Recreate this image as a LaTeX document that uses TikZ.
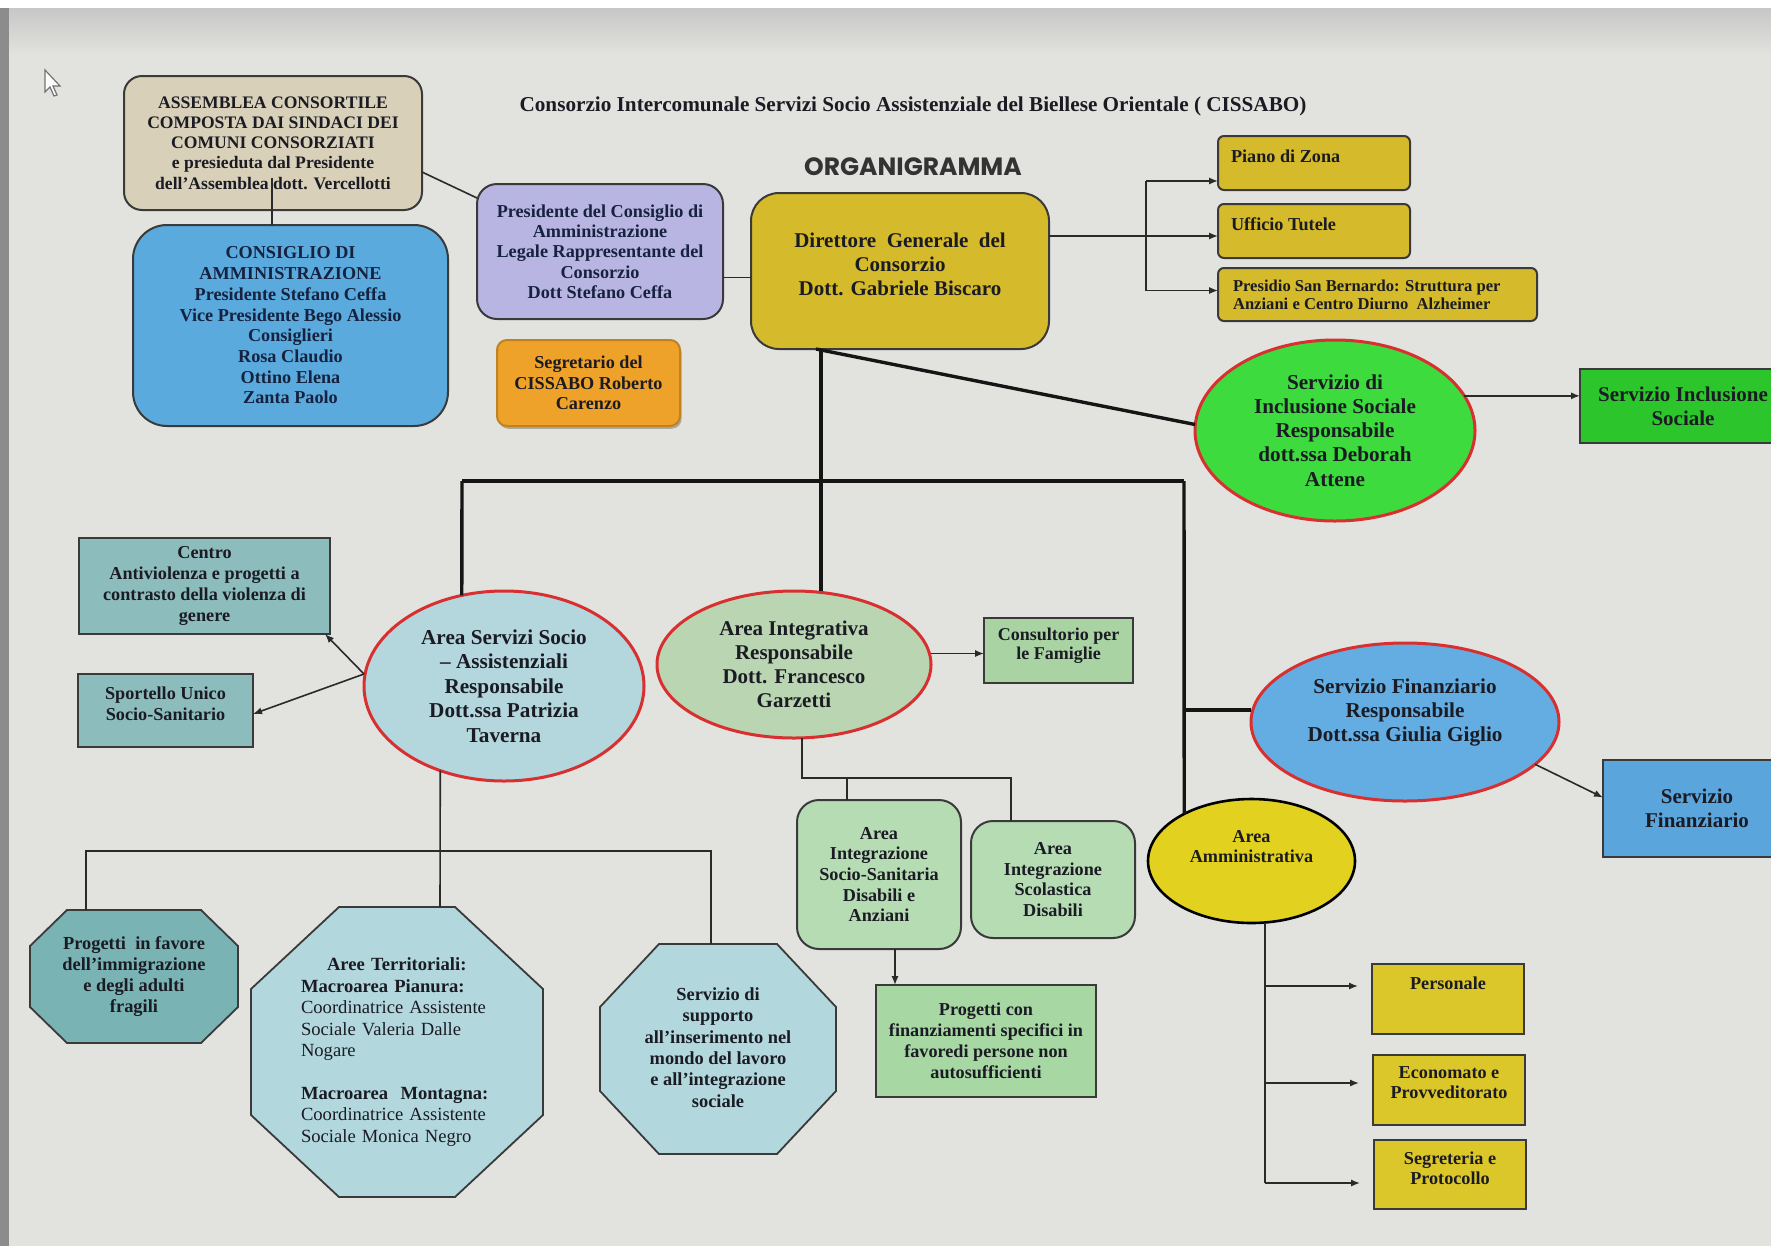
\documentclass[tikz,border=0pt]{standalone}
\usepackage{fontspec}
\setmainfont{Liberation Serif}
\newfontfamily\orgfont{Poppins}
\usetikzlibrary{shapes.geometric,arrows.meta,shadows}
\pgfdeclarelayer{bg}
\pgfsetlayers{bg,main}
\definecolor{pagebg}{HTML}{E2E2DF}
\definecolor{ink}{HTML}{1B1B24}
\definecolor{inkB}{HTML}{16223F}
\definecolor{edge}{HTML}{3A3A3A}
\definecolor{lnk}{HTML}{2A2A2A}
\definecolor{lnkd}{HTML}{151515}
\definecolor{redb}{HTML}{D83030}
\definecolor{cAsm}{HTML}{D9D0BA}
\definecolor{cCda}{HTML}{5AAADE}
\definecolor{cPres}{HTML}{B9B5E3}
\definecolor{cSeg}{HTML}{EFA229}
\definecolor{cDir}{HTML}{D5BA2B}
\definecolor{cIncl}{HTML}{3DDB3D}
\definecolor{cInclB}{HTML}{2CC52C}
\definecolor{cAss}{HTML}{B3D7DD}
\definecolor{cCentro}{HTML}{8DBCBD}
\definecolor{cAi}{HTML}{B9D5B1}
\definecolor{cCons}{HTML}{A9D3A3}
\definecolor{cFin}{HTML}{63ADE3}
\definecolor{cFinB}{HTML}{5AA5DC}
\definecolor{cAa}{HTML}{E2D21F}
\definecolor{cAis}{HTML}{B6DCB3}
\definecolor{cPcf}{HTML}{A7D7A3}
\definecolor{cAdm}{HTML}{DCC72A}
\definecolor{cPim}{HTML}{79B3B4}
\definecolor{cOct}{HTML}{B2D8DD}
\newcommand\myfs[2]{\fontsize{#1pt}{#2pt}\selectfont}
\newcommand\octagon[4]{%
  \path[draw=edge, line width=0.9pt, fill=#4]
    ([xshift=#2]#1.north west) -- ([xshift=-#2]#1.north east)
    -- ([yshift=-#3]#1.north east) -- ([yshift=#3]#1.south east)
    -- ([xshift=-#2]#1.south east) -- ([xshift=#2]#1.south west)
    -- ([yshift=#3]#1.south west) -- ([yshift=-#3]#1.north west) -- cycle;}
\tikzset{
  txt/.style={text=ink, align=center, inner sep=0pt, outer sep=0pt, font=\bfseries\myfs{9.1}{10.35}},
  boxst/.style={txt, draw=edge, line width=1pt},
  ell/.style={ellipse, draw=redb, line width=1.5pt, txt, font=\bfseries\myfs{10.6}{12.1}},
  conn/.style={draw=lnk, line width=0.8pt},
  thk/.style={draw=lnkd, line width=1.7pt},
  arr/.style={conn, -{Latex[length=4.5pt,width=3.6pt]}},
}
\begin{document}
\begin{tikzpicture}[x=0.5pt,y=-0.5pt]
\useasboundingbox (0,0) rectangle (1771,1253);
\clip (0,0) rectangle (1771,1253);
\begin{pgfonlayer}{bg}
\fill[pagebg] (0,0) rectangle (1771,1253);
\shade[top color=black!22, bottom color=pagebg] (0,8) rectangle (1771,55);
\fill[white] (0,0) rectangle (1771,8);
\fill[black!45] (0,8) rectangle (9,1246);
\fill[white] (0,1246) rectangle (1771,1253);
\draw[black!55, line width=0.6pt, fill=white!90!pagebg] (45,70) -- (45,92) -- (50,87) -- (54,96) -- (57,95) -- (53,86) -- (60,86) -- cycle;
\end{pgfonlayer}

% titles
\node[txt, font=\bfseries\myfs{10.6}{12}] (title) at (913,106) {Consorzio Intercomunale Servizi Socio Assistenziale del Biellese Orientale ( CISSABO)};
\node[inner sep=0pt, text=black!80, font=\orgfont\bfseries\myfs{12.5}{14}] (org) at (913,167) {ORGANIGRAMMA};

% governance
\node[boxst, fill=cAsm, rounded corners=9pt, minimum width=149pt, minimum height=67pt, font=\bfseries\myfs{8.8}{10.15}] (asm) at (273,143) {ASSEMBLEA CONSORTILE\\COMPOSTA DAI SINDACI DEI\\COMUNI CONSORZIATI\\e presieduta dal Presidente\\dell’Assemblea dott. Vercellotti};
\node[boxst, fill=cCda, rounded corners=17pt, minimum width=157.5pt, minimum height=100.5pt, text=inkB] (cda) at (290.5,325.5) {CONSIGLIO DI\\AMMINISTRAZIONE\\Presidente Stefano Ceffa\\Vice Presidente Bego Alessio\\Consiglieri\\Rosa Claudio\\Ottino Elena\\Zanta Paolo};
\node[boxst, fill=cPres, rounded corners=10pt, minimum width=123pt, minimum height=67.5pt, text=inkB, font=\bfseries\myfs{9.1}{10.15}] (pres) at (600,251.5) {Presidente del Consiglio di\\Amministrazione\\Legale Rappresentante del\\Consorzio\\Dott Stefano Ceffa};
\node[boxst, fill=cSeg, draw=cSeg!80!black, rounded corners=5pt, minimum width=91.5pt, minimum height=43pt, drop shadow={shadow xshift=0.8pt, shadow yshift=-1.4pt, fill=black, opacity=0.25}] (seg) at (588.5,383) {Segretario del\\CISSABO Roberto\\Carenzo};
\node[boxst, fill=cDir, rounded corners=14pt, minimum width=149pt, minimum height=78pt, font=\bfseries\myfs{10.5}{12}] (dir) at (900,271) {Direttore~~Generale~~del\\Consorzio\\Dott. Gabriele Biscaro\\[-5pt]\mbox{}};

% staff boxes of the director
\node[boxst, fill=cDir, rounded corners=3pt, minimum width=96pt, minimum height=27pt] (piano) at (1314,163) {};
\node[txt, anchor=west] (pianoT) at ([xshift=6.5pt,yshift=-10pt]piano.north west) {Piano di Zona};
\node[boxst, fill=cDir, rounded corners=3pt, minimum width=96pt, minimum height=27pt] (uff) at (1314,231) {};
\node[txt, anchor=west] (uffT) at ([xshift=6.5pt,yshift=-10pt]uff.north west) {Ufficio Tutele};
\node[boxst, fill=cDir, rounded corners=3pt, minimum width=159.5pt, minimum height=26.5pt] (presidio) at (1377.5,294.5) {};
\node[txt, anchor=west, align=left, font=\bfseries\myfs{8.3}{9.1}] (presT) at ([xshift=7.5pt]presidio.west) {Presidio San Bernardo: Struttura per\\Anziani e Centro Diurno~~Alzheimer};

% services
\node[ell, fill=cIncl, minimum width=140pt, minimum height=90.5pt] (incl) at (1335,430.5) {Servizio di\\Inclusione Sociale\\Responsabile\\dott.ssa Deborah\\Attene};
\node[boxst, fill=cInclB, minimum width=103pt, minimum height=37pt, font=\bfseries\myfs{10.5}{12}] (inclbox) at (1683,406) {Servizio Inclusione\\Sociale};
\node[ell, fill=cAss, minimum width=140pt, minimum height=95pt, font=\bfseries\myfs{10.6}{12.25}] (ass) at (504,686) {Area Servizi Socio\\– Assistenziali\\Responsabile\\Dott.ssa Patrizia\\Taverna};
\node[boxst, fill=cCentro, line width=0.8pt, minimum width=125.5pt, minimum height=48pt, font=\bfseries\myfs{9.1}{10.5}] (centro) at (204.5,586) {Centro\\Antiviolenza e progetti a\\contrasto della violenza di\\genere};
\node[boxst, fill=cCentro, line width=0.8pt, minimum width=87.5pt, minimum height=36.5pt, font=\bfseries\myfs{9.1}{10.5}] (sport) at (165.5,710.5) {Sportello Unico\\Socio-Sanitario\\[-4pt]\mbox{}};
\node[ell, fill=cAi, minimum width=137pt, minimum height=73.5pt, font=\bfseries\myfs{10.5}{12}] (ai) at (794,664.5) {Area Integrativa\\Responsabile\\Dott. Francesco\\Garzetti};
\node[boxst, fill=cCons, line width=0.8pt, minimum width=74.5pt, minimum height=32.5pt, font=\bfseries\myfs{9}{9.6}] (cons) at (1058.5,650.5) {Consultorio per\\le Famiglie\\[-3pt]\mbox{}};
\node[ell, fill=cFin, minimum width=154pt, minimum height=79pt, font=\bfseries\myfs{10.6}{12}] (fin) at (1405,722) {Servizio Finanziario\\Responsabile\\Dott.ssa Giulia Giglio\\\mbox{}};
\node[boxst, fill=cFinB, minimum width=94pt, minimum height=48.5pt, font=\bfseries\myfs{10.5}{12}] (finbox) at (1697,808.5) {Servizio\\Finanziario};
\node[ellipse, draw=black, line width=1.3pt, fill=cAa, txt, minimum width=103.5pt, minimum height=62pt, font=\bfseries\myfs{9.1}{9.6}] (aa) at (1251.5,861) {Area\\Amministrativa\\[5pt]\mbox{}};

% integrative area children
\node[boxst, fill=cAis, rounded corners=11pt, minimum width=82pt, minimum height=74.5pt] (ais) at (879,874.5) {Area\\Integrazione\\Socio-Sanitaria\\Disabili e\\Anziani};
\node[boxst, fill=cAis, rounded corners=11pt, minimum width=82pt, minimum height=58.5pt] (asc) at (1053,879.5) {Area\\Integrazione\\Scolastica\\Disabili};
\node[boxst, fill=cPcf, minimum width=110pt, minimum height=56pt, font=\bfseries\myfs{9.1}{10.5}] (pcf) at (986,1041) {Progetti con\\finanziamenti specifici in\\favoredi persone non\\autosufficienti};

% administrative boxes
\node[boxst, fill=cAdm, minimum width=76pt, minimum height=35pt] (pers) at (1448,999) {};
\node[txt] (persT) at ([yshift=-9.5pt]pers.north) {Personale};
\node[boxst, fill=cAdm, minimum width=76pt, minimum height=35pt] (econ) at (1449,1090) {};
\node[txt, font=\bfseries\myfs{9.1}{10}] (econT) at ([yshift=-14pt]econ.north) {Economato e\\Provveditorato};
\node[boxst, fill=cAdm, minimum width=76pt, minimum height=34.5pt] (segr) at (1450,1174.5) {};
\node[txt, font=\bfseries\myfs{9.1}{10}] (segrT) at ([yshift=-14pt]segr.north) {Segreteria e\\Protocollo};

% octagons
\node[txt, minimum width=104pt, minimum height=66.5pt, font=\bfseries\myfs{9.2}{10.5}] (pim) at (134,976.5) {Progetti~~in favore\\dell’immigrazione\\e degli adulti\\fragili};
\node[txt, align=left, text width=96pt, minimum width=146pt, minimum height=145pt, font=\myfs{9.3}{10.7}] (aree) at (397,1052) {\hspace*{13pt}\textbf{Aree Territoriali:}\\ \textbf{Macroarea Pianura:}\\ Coordinatrice Assistente\\ Sociale Valeria Dalle\\ Nogare\\[10.7pt] \textbf{Macroarea~~Montagna:}\\ Coordinatrice Assistente\\ Sociale Monica Negro};
\node[txt, minimum width=118pt, minimum height=105pt, font=\bfseries\myfs{9.2}{10.7}] (ssup) at (718,1049) {Servizio di\\supporto\\all’inserimento nel\\mondo del lavoro\\e all’integrazione\\sociale\\[-9pt]\mbox{}};
\begin{pgfonlayer}{bg}
\octagon{pim}{18.5pt}{18pt}{cPim}
\octagon{aree}{44pt}{41pt}{cOct}
\octagon{ssup}{29.5pt}{31.5pt}{cOct}
\end{pgfonlayer}

% ---- connectors ----
\draw[conn] ([xshift=-9.25pt]cda.north) -- ([xshift=-0.5pt,yshift=16pt]asm.south);
\draw[conn] ([yshift=-14.5pt]asm.east) -- ([yshift=-7pt]pres.north west);
\coordinate (pD) at ([yshift=-13pt]pres.east);
\draw[conn] (pD) -- (pD -| dir.west);

\coordinate (br) at (1146,236);
\coordinate (pA) at ([yshift=-9pt]piano.west);
\coordinate (uA) at ([yshift=-2.5pt]uff.west);
\coordinate (prA) at ([yshift=2pt]presidio.west);
\draw[arr] (uA -| dir.east) -- (uA);
\draw[conn] (pA -| br) -- (prA -| br);
\draw[arr] (pA -| br) -- (pA);
\draw[arr] (prA -| br) -- (prA);

\coordinate (dS) at ([xshift=-39.5pt]dir.south);
\draw[thk] (dS) -- (dS |- ai.north);
\draw[thk] ([xshift=-2.5pt]dS) -- ([yshift=3pt]incl.west);
\coordinate (hL) at (462,481);
\coordinate (hR) at (1184,481);
\coordinate (fJ) at (1184,710);
\draw[thk] (hL) -- (hR);
\draw[thk] (hL) -- (ass.115);
\draw[thk] (hR) -- (aa.145);
\draw[thk] (fJ) -- (fJ -| fin.west);

\draw[arr] (incl.15) -- (incl.15 -| inclbox.west);
\draw[arr] (fin.-18) -- ([yshift=5.5pt]finbox.west);

\coordinate (aL) at ([yshift=6pt]ass.west);
\draw[arr] (aL) -- ([xshift=-2.5pt]centro.south east);
\draw[arr] (aL) -- ([yshift=-1.75pt]sport.east);

\coordinate (cA) at ([yshift=-1.5pt]cons.west);
\draw[arr] (cA -| ai.east) -- (cA);

\coordinate (aiB) at (802,778);
\coordinate (ascT) at ([xshift=-21pt]asc.north);
\coordinate (aisT) at ([xshift=-16pt]ais.north);
\draw[conn] (ai.south -| aiB) -- (aiB) -- (aiB -| ascT) -- (ascT);
\draw[conn] (aiB -| aisT) -- (aisT);
\coordinate (pcT) at ([xshift=-45.5pt]pcf.north);
\draw[arr] (pcT |- ais.south) -- (pcT);

\coordinate (aT) at ([xshift=6.75pt]aa.south);
\coordinate (y1) at ([yshift=6.5pt]pers.west);
\coordinate (y2) at ([yshift=3.5pt]econ.west);
\coordinate (y3) at ([yshift=-4.25pt]segr.west);
\draw[conn] (aT) -- (aT |- y3);
\draw[arr, shorten >=7pt] (aT |- y1) -- (y1);
\draw[arr, shorten >=7pt] (aT |- y2) -- (y2);
\draw[arr, shorten >=7pt] (aT |- y3) -- (y3);

\coordinate (oJ) at (440,851);
\coordinate (arT) at ([xshift=21.5pt]aree.north);
\coordinate (pmT) at ([xshift=-24pt]pim.north);
\coordinate (ssT) at ([xshift=-3.5pt]ssup.north);
\draw[conn] (ass.233) -- (arT);
\draw[conn] (pmT) -- (pmT |- oJ) -- (ssT |- oJ) -- (ssT);
\end{tikzpicture}
\end{document}
